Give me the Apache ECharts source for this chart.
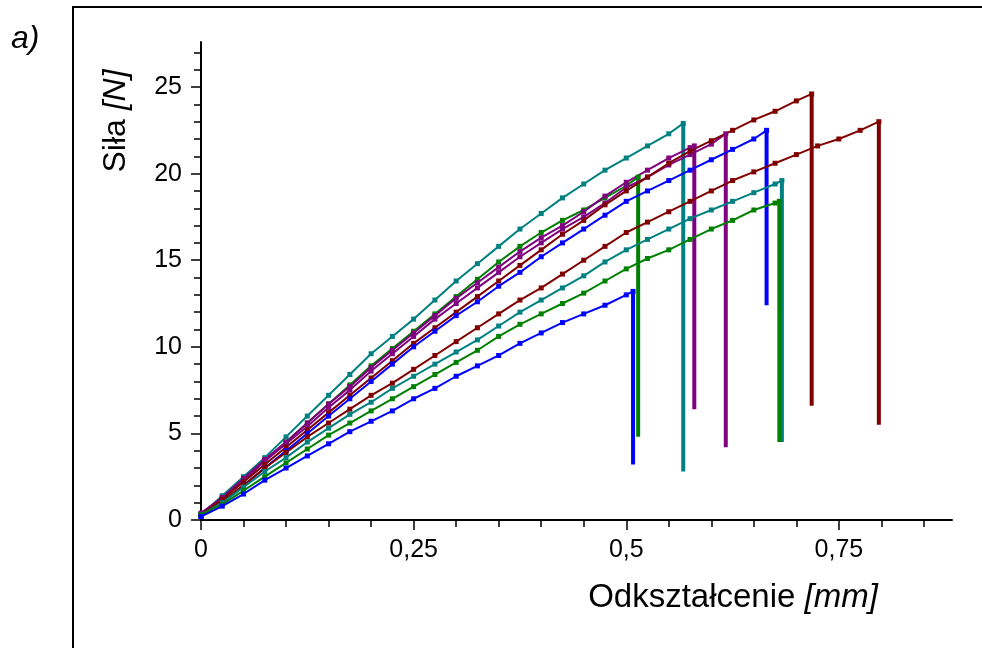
<!DOCTYPE html>
<html><head><meta charset="utf-8">
<script src="https://cdn.jsdelivr.net/npm/echarts@6/dist/echarts.min.js"></script>
<style>html,body{margin:0;padding:0;background:#fff}#c{width:982px;height:648px}</style>
</head><body><div id="c"></div>
<script>
// x grid step for the sampled points of every curve
const xStep = 0.025;
const xMajorTicks = [0, 0.25, 0.5, 0.75];
const yMajorTicks = [0, 5, 10, 15, 20, 25];
const xMax = 0.883;
const yMax = 27.6;

// sampled force values [N] at x = 0, 0.025, 0.05, ... (until just before break)
const teal1 = [0.3,1.4,2.5,3.6,4.8,6.0,7.2,8.4,9.6,10.6,11.6,12.7,13.8,14.8,15.8,16.8,17.7,18.6,19.4,20.2,20.9,21.6,22.3];
const green1 = [0.3,1.2,2.3,3.4,4.5,5.6,6.7,7.8,8.9,9.9,10.9,11.9,12.9,13.9,14.9,15.8,16.6,17.3,17.9,18.6,19.3];
const purple1 = [0.3,1.3,2.4,3.5,4.5,5.6,6.7,7.7,8.8,9.8,10.8,11.8,12.8,13.7,14.6,15.5,16.3,17.0,17.8,18.7,19.5,20.2,20.9,21.5];
const purple2 = [0.4,1.3,2.3,3.4,4.4,5.4,6.5,7.5,8.6,9.6,10.6,11.6,12.5,13.4,14.3,15.2,16.0,16.8,17.5,18.3,19.2,19.8,20.5,21.1,21.7];
const red1 = [0.3,1.2,2.2,3.2,4.2,5.2,6.2,7.2,8.2,9.2,10.2,11.1,12.0,12.9,13.8,14.7,15.6,16.5,17.3,18.2,19.0,19.8,20.6,21.3,21.9,22.5,23.1,23.6,24.2];
const blue1 = [0.2,1.0,2.0,3.0,4.0,5.0,6.0,7.0,8.0,9.0,10.0,10.9,11.8,12.6,13.5,14.3,15.2,16.0,16.8,17.6,18.4,19.0,19.6,20.2,20.8,21.4,22.0];
const red2 = [0.3,1.1,2.0,3.0,3.9,4.8,5.6,6.4,7.2,7.9,8.7,9.5,10.3,11.1,11.9,12.7,13.4,14.2,15.0,15.8,16.6,17.2,17.8,18.4,19.0,19.6,20.1,20.6,21.1,21.6,22.0,22.5];
const teal2 = [0.3,1.0,1.9,2.8,3.6,4.5,5.3,6.1,6.8,7.6,8.3,9.0,9.7,10.4,11.2,12.0,12.7,13.4,14.1,14.9,15.6,16.2,16.8,17.4,17.9,18.4,18.9,19.4];
const green2 = [0.3,0.9,1.7,2.5,3.3,4.1,4.9,5.6,6.3,7.0,7.7,8.4,9.1,9.8,10.6,11.3,11.9,12.5,13.1,13.8,14.5,15.1,15.6,16.2,16.8,17.3,17.9,18.3];
const blue2 = [0.2,0.8,1.5,2.3,3.0,3.7,4.4,5.1,5.7,6.3,7.0,7.6,8.3,8.9,9.5,10.2,10.8,11.4,11.9,12.4,13.0];

// break point (x, peak force) and force after the drop, in the same order
const curveNames = ['teal1','green1','purple1','purple2','red1','blue1','red2','teal2','green2','blue2'];
const curveValues = [teal1, green1, purple1, purple2, red1, blue1, red2, teal2, green2, blue2];
const breakX = [0.567, 0.514, 0.580, 0.617, 0.718, 0.665, 0.797, 0.683, 0.680, 0.508];
const breakY = [22.9, 19.8, 21.6, 22.3, 24.6, 22.5, 23.0, 19.6, 18.4, 13.2];
const dropY  = [2.8, 4.8, 6.4, 4.2, 6.6, 12.4, 5.5, 4.5, 4.5, 3.2];
const curveColors = ['#008080','#008000','#800080','#800080','#800000','#0000ff','#800000','#008080','#008000','#0000ff'];

const xMinorTicks = [];
for (let v = 0; v <= 0.85 + 1e-9; v += 0.05) xMinorTicks.push(+v.toFixed(2));
const yMinorTicks = [];
for (let v = 0; v <= 27; v++) yMinorTicks.push(v);

const FONT = "'Liberation Sans', Arial, sans-serif";
const series = [];
curveValues.forEach((ys, k) => {
  const pts = ys.map((y, i) => [+(i * xStep).toFixed(3), y]);
  pts.push([breakX[k], breakY[k]]);
  series.push({
    name: curveNames[k], type: 'line', xAxisIndex: 0, yAxisIndex: 0,
    data: pts, symbol: 'rect', symbolSize: 5, showSymbol: true,
    lineStyle: {color: curveColors[k], width: 2},
    itemStyle: {color: curveColors[k]},
    animation: false, silent: true
  });
  series.push({
    name: curveNames[k] + '_drop', type: 'line', xAxisIndex: 0, yAxisIndex: 0,
    data: [[breakX[k], breakY[k]], [breakX[k], dropY[k]]],
    symbol: 'none', lineStyle: {color: curveColors[k], width: 4},
    animation: false, silent: true
  });
});

const fmt = v => String(v).replace('.', ',');
const chart = echarts.init(document.getElementById('c'), null, {renderer: 'canvas'});
chart.setOption({
  animation: false,
  backgroundColor: '#fff',
  grid: {left: 201, right: 30, top: 42, bottom: 128},
  xAxis: [
    {type: 'value', min: 0, max: xMax, position: 'bottom',
     splitLine: {show: false},
     axisLine: {show: true, onZero: false, lineStyle: {color: '#000', width: 2}},
     axisTick: {show: true, customValues: xMajorTicks, length: 10, lineStyle: {color: '#000', width: 1.5}},
     axisLabel: {show: true, customValues: xMajorTicks, formatter: fmt, color: '#000', fontSize: 25, fontFamily: FONT, margin: 18}},
    {type: 'value', min: 0, max: xMax, position: 'bottom',
     splitLine: {show: false},
     axisLine: {show: false, onZero: false},
     axisTick: {show: true, customValues: xMinorTicks, length: 7, lineStyle: {color: '#000', width: 1.5}},
     axisLabel: {show: false}}
  ],
  yAxis: [
    {type: 'value', min: 0, max: yMax, position: 'left',
     splitLine: {show: false},
     axisLine: {show: true, onZero: false, lineStyle: {color: '#000', width: 2}},
     axisTick: {show: true, customValues: yMajorTicks, length: 10, lineStyle: {color: '#000', width: 1.5}},
     axisLabel: {show: true, customValues: yMajorTicks, formatter: fmt, color: '#000', fontSize: 25, fontFamily: FONT, margin: 19}},
    {type: 'value', min: 0, max: yMax, position: 'left',
     splitLine: {show: false},
     axisLine: {show: false, onZero: false},
     axisTick: {show: true, customValues: yMinorTicks, length: 7, lineStyle: {color: '#000', width: 1.5}},
     axisLabel: {show: false}}
  ],
  graphic: [
    {type: 'rect', shape: {x: 73, y: 7, width: 1000, height: 700}, style: {fill: 'none', stroke: '#000', lineWidth: 2}, silent: true},
    {type: 'text', x: 11, y: 39, style: {text: 'a)', font: 'italic 32px ' + FONT, fill: '#000', textAlign: 'left', textVerticalAlign: 'middle'}},
    {type: 'text', x: 733, y: 598, style: {
      text: '{n|Odkształcenie }{u|[mm]}', textAlign: 'center', textVerticalAlign: 'middle',
      rich: {n: {fontSize: 33, fontFamily: FONT, fill: '#000', color: '#000'}, u: {fontSize: 33, fontFamily: FONT, fontStyle: 'italic', fill: '#000', color: '#000'}}}},
    {type: 'text', x: 116, y: 121, rotation: Math.PI / 2, style: {
      text: '{n|Siła }{u|[N]}', textAlign: 'center', textVerticalAlign: 'middle',
      rich: {n: {fontSize: 32, fontFamily: FONT, fill: '#000', color: '#000'}, u: {fontSize: 32, fontFamily: FONT, fontStyle: 'italic', fill: '#000', color: '#000'}}}}
  ],
  series: series
});
</script>
</body></html>
